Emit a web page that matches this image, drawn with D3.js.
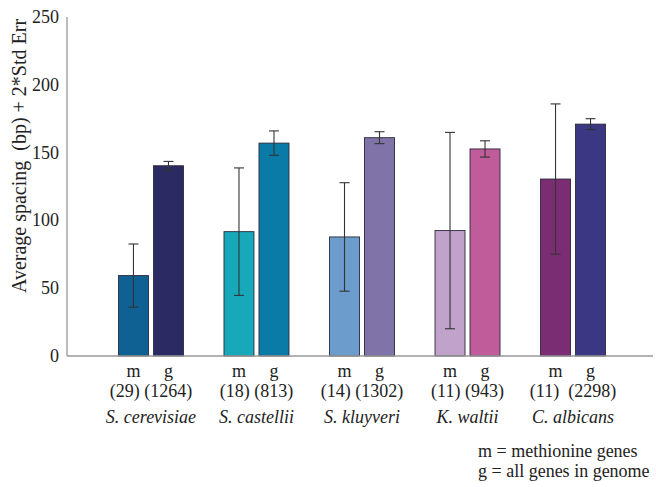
<!DOCTYPE html>
<html><head><meta charset="utf-8">
<script src="https://cdn.jsdelivr.net/npm/d3@7"></script>
</head>
<body style="margin:0">
<svg id="c" width="656" height="487"></svg>
<script>
const species = ["S. cerevisiae","S. castellii","S. kluyveri","K. waltii","C. albicans"];
const subgroups = ["m","g"];
const mValues = [59.3, 91.7, 87.8, 92.5, 130.5];
const mErr = [23.3, 47, 40, 72.4, 55.4];
const gValues = [140.3, 157, 161, 152.7, 171];
const gErr = [3.2, 9, 4.4, 6, 4];
const mCounts = ["(29)","(18)","(14)","(11)","(11)"];
const gCounts = ["(1264)","(813)","(1302)","(943)","(2298)"];
const mColors = ["#0e6192","#17a9ba","#6b9ccb","#c0a2cb","#7b2d73"];
const gColors = ["#2b2a63","#0a7aa6","#8073a8","#c15c9a","#3b3782"];
const yTicks = [0,50,100,150,200,250];
const yTitle = "Average spacing  (bp) + 2*Std Err";
const legendLines = ["m = methionine genes","g = all genes in genome"];

const svg = d3.select("#c");
const y = d3.scaleLinear().domain([0,250]).range([356,17]);
const x0 = d3.scaleBand().domain(species).range([98,626]).paddingInner(0.384).paddingOuter(0.194);
const x1 = d3.scaleBand().domain(subgroups).range([0,x0.bandwidth()]).paddingInner(0.143).paddingOuter(0);

const rows = species.map((s,i)=>[
  {s, k:"m", v:mValues[i], e:mErr[i], c:mColors[i]},
  {s, k:"g", v:gValues[i], e:gErr[i], c:gColors[i]}
]).flat();

function txt(sel, size){
  return sel.attr("font-family","Liberation Serif")
    .style("font-family",()=>"'Liberation Serif'")
    .style("font-size",()=>size+"px").attr("fill","#222");
}

svg.append("line").attr("x1",67).attr("x2",67).attr("y1",y(250)).attr("y2",y(0)).attr("stroke","#999").attr("stroke-width",1.3);

txt(svg.selectAll(".yt").data(yTicks).join("text")
  .attr("x",59).attr("y",d=>y(d)+6).attr("text-anchor","end"),18).text(d=>d);

svg.selectAll(".bar").data(rows).join("rect")
  .attr("x",d=>x0(d.s)+x1(d.k)).attr("width",x1.bandwidth())
  .attr("y",d=>y(d.v)).attr("height",d=>y(0)-y(d.v))
  .attr("fill",d=>d.c).attr("stroke","#2a2a3a").attr("stroke-width",0.9);

svg.append("line").attr("x1",67).attr("x2",653).attr("y1",y(0)).attr("y2",y(0)).attr("stroke","#999").attr("stroke-width",1.3);

const eb = svg.selectAll(".eb").data(rows).join("g").attr("transform",d=>`translate(${x0(d.s)+x1(d.k)+x1.bandwidth()/2},0)`);
eb.append("line").attr("y1",d=>y(d.v+d.e)).attr("y2",d=>y(d.v-d.e)).attr("stroke","#333").attr("stroke-width",1.1);
eb.append("line").attr("x1",-5).attr("x2",5).attr("y1",d=>y(d.v+d.e)).attr("y2",d=>y(d.v+d.e)).attr("stroke","#333").attr("stroke-width",1.1);
eb.append("line").attr("x1",-5).attr("x2",5).attr("y1",d=>y(d.v-d.e)).attr("y2",d=>y(d.v-d.e)).attr("stroke","#333").attr("stroke-width",1.1);

txt(svg.selectAll(".sl").data(rows).join("text")
  .attr("x",d=>x0(d.s)+x1(d.k)+x1.bandwidth()/2).attr("y",377).attr("text-anchor","middle"),18).text(d=>d.k);

txt(svg.selectAll(".ct").data(species).join("text")
  .attr("x",d=>x0(d)+x0.bandwidth()/2).attr("y",397).attr("text-anchor","middle")
  .attr("xml:space","preserve"),18).text((d,i)=>mCounts[i]+(i===4?"\u00a0 ":" ")+gCounts[i]);

txt(svg.selectAll(".sp").data(species).join("text")
  .attr("x",d=>x0(d)+x0.bandwidth()/2).attr("y",423).attr("text-anchor","middle")
  .style("font-style","italic"),18).text(d=>d);

txt(svg.selectAll(".lg").data(legendLines).join("text")
  .attr("x",478).attr("y",(d,i)=>456.5+i*20),18).text(d=>d);

txt(svg.append("text").attr("transform","translate(26,156) rotate(-90)").attr("text-anchor","middle"),20)
  .text(yTitle.replace("  ","\u00a0 "));
</script>
</body></html>
